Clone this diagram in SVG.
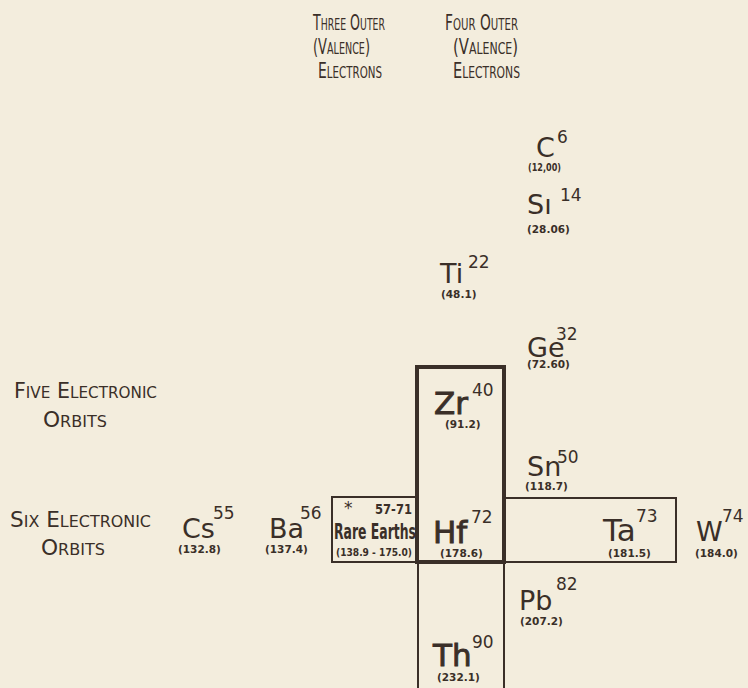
<svg xmlns="http://www.w3.org/2000/svg" width="748" height="688" viewBox="0 0 748 688">
<style>
text{font-family:"DejaVu Sans","Liberation Sans",sans-serif;fill:#3a2f28}
.hd{font-size:21px}
.sc{font-size:15.5px}
.sym{font-size:27px}
.big{font-size:31px;stroke:#3a2f28;stroke-width:0.9px}
.sup{font-size:17px}
.wt{font-size:10.5px;font-weight:bold}
.re{font-size:21px;font-weight:bold}
.thick{fill:none;stroke:#3a2f28;stroke-width:4}
.thin{fill:none;stroke:#3a2f28;stroke-width:2}
</style>
<rect width="748" height="688" fill="#f3eddd"/>
<g id="headers">
<text x="313" y="30" class="hd" textLength="72" lengthAdjust="spacingAndGlyphs">T<tspan class="sc">HREE</tspan> O<tspan class="sc">UTER</tspan></text>
<text x="313" y="54" class="hd" textLength="57" lengthAdjust="spacingAndGlyphs">(V<tspan class="sc">ALENCE</tspan>)</text>
<text x="318" y="78" class="hd" textLength="64" lengthAdjust="spacingAndGlyphs">E<tspan class="sc">LECTRONS</tspan></text>
<text x="445" y="30" class="hd" textLength="73" lengthAdjust="spacingAndGlyphs">F<tspan class="sc">OUR</tspan> O<tspan class="sc">UTER</tspan></text>
<text x="453" y="54" class="hd" textLength="65" lengthAdjust="spacingAndGlyphs">(V<tspan class="sc">ALENCE</tspan>)</text>
<text x="453" y="78" class="hd" textLength="67" lengthAdjust="spacingAndGlyphs">E<tspan class="sc">LECTRONS</tspan></text>
</g>
<g id="rowlabels">
<text x="14" y="398" class="hd" textLength="143" lengthAdjust="spacingAndGlyphs">F<tspan class="sc">IVE</tspan> E<tspan class="sc">LECTRONIC</tspan></text>
<text x="43" y="427" class="hd" textLength="64" lengthAdjust="spacingAndGlyphs">O<tspan class="sc">RBITS</tspan></text>
<text x="10" y="527" class="hd" textLength="141" lengthAdjust="spacingAndGlyphs">S<tspan class="sc">IX</tspan> E<tspan class="sc">LECTRONIC</tspan></text>
<text x="41" y="555" class="hd" textLength="64" lengthAdjust="spacingAndGlyphs">O<tspan class="sc">RBITS</tspan></text>
</g>
<g id="boxes">
<rect x="332" y="497" width="85" height="65" class="thin"/>
<rect x="504" y="498" width="172" height="64" class="thin"/>
<line x1="418" y1="562" x2="418" y2="690" class="thin"/>
<line x1="504" y1="562" x2="504" y2="690" class="thin"/>
<rect x="417" y="367" width="87" height="195" class="thick"/>
</g>
<g id="C"><text x="536" y="157" class="sym">C</text><text x="557" y="143" class="sup">6</text><text x="528" y="171" class="wt" textLength="33" lengthAdjust="spacingAndGlyphs">(12,00)</text></g>
<g id="Si"><text x="527" y="214" class="sym">Sı</text><text x="560" y="201" class="sup">14</text><text x="527" y="233" class="wt">(28.06)</text></g>
<g id="Ti"><text x="440" y="283" class="sym">Ti</text><text x="468" y="268" class="sup">22</text><text x="441" y="298" class="wt">(48.1)</text></g>
<g id="Ge"><text x="527" y="357" class="sym">Ge</text><text x="556" y="340" class="sup">32</text><text x="527" y="368" class="wt">(72.60)</text></g>
<g id="Zr"><text x="434" y="414" class="big">Zr</text><text x="472" y="396" class="sup">40</text><text x="445" y="428" class="wt">(91.2)</text></g>
<g id="Sn"><text x="527" y="476" class="sym">Sn</text><text x="557" y="463" class="sup">50</text><text x="525" y="490" class="wt">(118.7)</text></g>
<g id="Cs"><text x="182" y="538" class="sym">Cs</text><text x="213" y="519" class="sup">55</text><text x="178" y="553" class="wt">(132.8)</text></g>
<g id="Ba"><text x="269" y="538" class="sym">Ba</text><text x="300" y="519" class="sup">56</text><text x="265" y="553" class="wt">(137.4)</text></g>
<g id="RareEarths"><text x="344" y="514" class="sup">*</text><text x="375" y="514" class="wt" style="font-size:14px" textLength="37" lengthAdjust="spacingAndGlyphs">57-71</text><text x="334" y="539" class="re" textLength="82" lengthAdjust="spacingAndGlyphs">Rare Earths</text><text x="336" y="556" class="wt" textLength="76" lengthAdjust="spacingAndGlyphs">(138.9 - 175.0)</text></g>
<g id="Hf"><text x="433" y="543" class="big">Hf</text><text x="471" y="523" class="sup">72</text><text x="440" y="557" class="wt">(178.6)</text></g>
<g id="Ta"><text x="603" y="541" class="sym" style="font-size:31px">Ta</text><text x="636" y="522" class="sup">73</text><text x="608" y="557" class="wt">(181.5)</text></g>
<g id="W"><text x="696" y="541" class="sym">W</text><text x="722" y="522" class="sup">74</text><text x="695" y="557" class="wt">(184.0)</text></g>
<g id="Pb"><text x="519" y="610" class="sym">Pb</text><text x="556" y="590" class="sup">82</text><text x="520" y="625" class="wt">(207.2)</text></g>
<g id="Th"><text x="433" y="666" class="big">Th</text><text x="472" y="648" class="sup">90</text><text x="437" y="681" class="wt">(232.1)</text></g>
</svg>
